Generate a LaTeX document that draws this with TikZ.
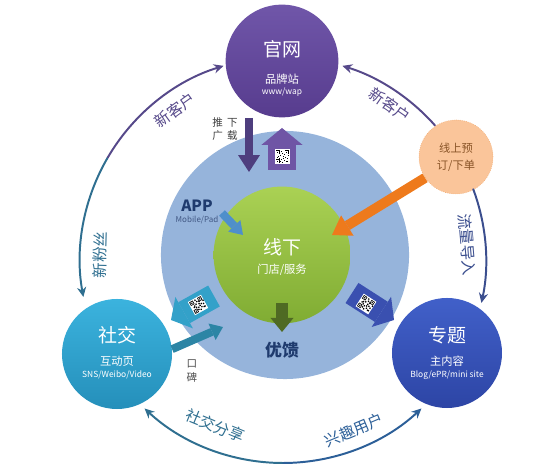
\documentclass[tikz,border=0pt]{standalone}
\usepackage{fontspec}
\setmainfont{Noto Sans CJK SC}
\usetikzlibrary{arrows.meta,calc}
\definecolor{hubblue}{HTML}{96B4DB}
\definecolor{greenT}{HTML}{AAD154}
\definecolor{greenB}{HTML}{80AC33}
\definecolor{siteT}{HTML}{7056A9}
\definecolor{siteB}{HTML}{573C8E}
\definecolor{socT}{HTML}{3BB3DE}
\definecolor{socB}{HTML}{258FBA}
\definecolor{topT}{HTML}{4160C9}
\definecolor{topB}{HTML}{2D45A5}
\definecolor{peach}{HTML}{FAC59A}
\definecolor{peachrim}{HTML}{EFA86C}
\definecolor{peachtxt}{HTML}{8A5528}
\definecolor{orangearr}{HTML}{EE7A1C}
\definecolor{arcpurple}{HTML}{56498A}
\definecolor{arcteal}{HTML}{2F6F90}
\definecolor{arcblue}{HTML}{3B4E8E}
\definecolor{arcbluebot}{HTML}{2C5F98}
\definecolor{navy}{HTML}{1F3B6E}
\definecolor{pushpurple}{HTML}{4E3E7E}
\definecolor{qrpurple}{HTML}{6F55A5}
\definecolor{appblue}{HTML}{4F8FCB}
\definecolor{fbgreen}{HTML}{4F6A23}
\definecolor{shteal}{HTML}{33A1C9}
\definecolor{wmteal}{HTML}{2C85A5}
\definecolor{tpblue}{HTML}{3A50B0}
\tikzset{
  pics/qrcode/.style={code={
    \fill[white] (-7.5,-7.5) rectangle (7.5,7.5);
    \foreach \qx/\qy in {-6.5/2.5,2.5/2.5,-6.5/-6.5}{
      \fill[black] (\qx,\qy) rectangle ++(4,4);
      \fill[white] (\qx+0.8,\qy+0.8) rectangle ++(2.4,2.4);
      \fill[black] (\qx+1.4,\qy+1.4) rectangle ++(1.2,1.2);}
    \foreach \qx/\qy in {-1/5,0/3,-2/1,1/0,3/-1,5/-2,-1/-3,2/-4,4/-5,0/-6,-5/-1,-3/-2,6/1,-4/0,2/2,1/-2,5/-5,-2/-5}
      \fill[black] (\qx,\qy) rectangle ++(1.3,1.3);
  }}
}
\begin{document}
\begin{tikzpicture}[x=0.025cm,y=0.025cm,
    bubble/.style={circle,inner sep=0pt},
    title/.style={text=white,font=\fontsize{13.5}{14}\selectfont},
    sub/.style={text=white,font=\fontsize{8}{9}\selectfont},
    tiny/.style={text=white,font=\fontsize{6}{7}\selectfont},
    ringline/.style={line width=1.4pt,line cap=round,-{Stealth[length=7pt,width=6.5pt]}},
    ringlabel/.style={font=\fontsize{11}{12}\selectfont},
    blockarr/.style n args={3}{line width=#1,-{Triangle[length=#3,width=#2,line width=0pt]}}]
\useasboundingbox (0,0) rectangle (560,471);
\coordinate (ring) at (283,211);
\node[bubble,fill=hubblue,minimum size=6.2cm] (hub) at (285,216) {};
\node[bubble,top color=greenT,bottom color=greenB,minimum size=3.42cm] (offline) at (282,216) {};
\node[bubble,top color=siteT,bottom color=siteB,minimum size=2.82cm] (site) at (282,410) {};
\node[bubble,top color=socT,bottom color=socB,minimum size=2.75cm] (social) at (117,117) {};
\node[bubble,top color=topT,bottom color=topB,minimum size=2.75cm] (topic) at (447,118) {};
\node[bubble,fill=peach,draw=peachrim,densely dotted,minimum size=1.85cm] (online) at (456,314) {};
\node[title] (sitet) at ($(site)+(0,12)$) {官网};
\node[sub] (sites) at ($(site)+(0,-18)$) {品牌站};
\node[tiny] (sitew) at ($(site)+(0,-31)$) {www/wap};
\node[title] (offt) at ($(offline)+(0,8)$) {线下};
\node[sub] (offs) at ($(offline)+(0,-15)$) {门店/服务};
\node[title] (soct) at ($(social)+(0,19)$) {社交};
\node[sub] (socs) at ($(social)+(0,-7)$) {互动页};
\node[tiny] (socw) at ($(social)+(0,-21)$) {SNS/Weibo/Video};
\node[title] (topt) at ($(topic)+(0,18)$) {专题};
\node[sub] (tops) at ($(topic)+(0,-8)$) {主内容};
\node[tiny] (topw) at ($(topic)+(0,-22)$) {Blog/ePR/mini site};
\node[text=peachtxt,font=\fontsize{8}{12}\selectfont,align=center] (onlinet) at (online) {线上预\\订/下单};
\coordinate (lmid) at ($(ring)+(150:203)$);
\coordinate (rtop) at ($(ring)+(41.5:203)$);
\coordinate (rlow) at ($(ring)+(20.4:203)$);
\coordinate (bmid) at ($(ring)+(270:203)$);
\draw[ringline,arcpurple] (lmid) arc[start angle=150,end angle=107,radius=203];
\draw[ringline,arcteal] (lmid) arc[start angle=150,end angle=190.5,radius=203];
\draw[ringline,arcpurple] (rtop) arc[start angle=41.5,end angle=73,radius=203];
\draw[ringline,arcblue] (rlow) arc[start angle=20.4,end angle=-12.2,radius=203];
\draw[ringline,arcteal] (bmid) arc[start angle=270,end angle=227,radius=203];
\draw[ringline,arcbluebot] (bmid) arc[start angle=270,end angle=313,radius=203];
\node[ringlabel,text=arcpurple,rotate=35.7] (newl) at ($(ring)+(125.7:185)$) {新客户};
\node[ringlabel,text=arcteal,rotate=88.4] (fans) at ($(ring)+(178.4:183)$) {新粉丝};
\node[ringlabel,text=arcpurple,rotate=-34.6] (newr) at ($(ring)+(55.4:188)$) {新客户};
\node[ringlabel,text=arcblue,rotate=-85.3] (flow) at ($(ring)+(4.7:185)$) {流量导入};
\node[ringlabel,text=arcteal,rotate=-22.3] (share) at ($(ring)+(247.7:179)$) {社交分享};
\node[ringlabel,text=arcbluebot,rotate=22.7] (fans2) at ($(ring)+(292.7:184)$) {兴趣用户};
\coordinate (pushA) at (249,353);
\coordinate (pushB) at (249,299);
\draw[blockarr={5.7pt}{15.6pt}{12pt},pushpurple] (pushA) -- (pushB);
\node[text=black!75,font=\fontsize{7.5}{9}\selectfont,align=center] (pusht) at (225,342) {推\hspace{3pt}下\\广\hspace{3pt}载};
\coordinate (qrA) at (282,301);
\coordinate (qrB) at (282,343);
\draw[blockarr={20.6pt}{29.2pt}{12pt},qrpurple] (qrA) -- (qrB);
\pic at (282,314) {qrcode};
\node[text=navy,font=\bfseries\fontsize{11}{12}\selectfont] (app) at (197,265) {APP};
\node[text=navy!85,font=\fontsize{5.7}{6}\selectfont] (apps) at (197,251) {Mobile/Pad};
\coordinate (appA) at (222,258);
\coordinate (appB) at (243,236);
\draw[blockarr={5.7pt}{12pt}{9pt},appblue] (appA) -- (appB);
\coordinate (fbA) at (282,168);
\coordinate (fbB) at (282,139);
\draw[blockarr={9.2pt}{16.4pt}{10pt},fbgreen] (fbA) -- (fbB);
\node[text=navy,font=\bfseries\fontsize{12}{13}\selectfont] (feedback) at (282,121) {优馈};
\coordinate (shA) at (214,175);
\coordinate (shB) at (171,151);
\draw[blockarr={17pt}{25.6pt}{10.7pt},shteal] (shA) -- (shB);
\pic[rotate=29] at (198,166) {qrcode};
\coordinate (wmB) at (223,144);
\draw[blockarr={5.7pt}{12.8pt}{8.5pt},wmteal] (social.5) -- (wmB);
\node[text=black!70,font=\fontsize{7.5}{10}\selectfont,align=center] (wordt) at (192,100) {口\\碑};
\coordinate (tpA) at (352,178);
\coordinate (tpB) at (394,151);
\draw[blockarr={17pt}{25.6pt}{10.7pt},tpblue] (tpA) -- (tpB);
\pic[rotate=-33] at (366,167) {qrcode};
\coordinate (otip) at (332,236);
\draw[blockarr={7.1pt}{17pt}{12.8pt},orangearr] (online.214) -- (otip);
\end{tikzpicture}
\end{document}
